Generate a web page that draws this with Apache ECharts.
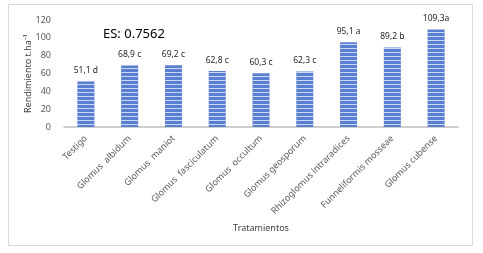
<!DOCTYPE html>
<html><head><meta charset="utf-8">
<script src="https://cdn.jsdelivr.net/npm/echarts@6/dist/echarts.min.js"></script>
<style>html,body{margin:0;padding:0;background:#fff}#c{width:483px;height:253px}</style>
</head><body><div id="c"></div>
<script>
var categories = ["Testigo","Glomus  albidum","Glomus  maniot","Glomus  fasciculatum","Glomus  occultum","Glomus geosporum","Rhizoglomus intraradices","Funneliformis mosseae","Glomus cubense"];
var values = [51.1, 68.9, 69.2, 62.8, 60.3, 62.3, 95.1, 89.2, 109.3];
var letters = ["d","c","c","c","c","c","a","b","a"];
var valueLabels = ["51,1 d","68,9 c","69,2 c","62,8 c","60,3 c","62,3 c","95,1 a","89,2 b","109,3a"];
var yTicks = [0,20,40,60,80,100,120];

var font = "Noto Sans";
var chart = echarts.init(document.getElementById('c'), null, {renderer:'canvas'});
chart.setOption({
  animation:false,
  textStyle:{fontFamily:font},
  graphic:[
    {type:'rect', shape:{x:8.5,y:4.5,width:464,height:241}, style:{fill:null, stroke:'#d9d9d9', lineWidth:1}, silent:true},
    {type:'text', left:103, top:28, style:{text:'ES: 0.7562', font:'13px "Noto Sans"', fill:'#000'}}
  ],
  grid:{left:64, right:25, top:20, bottom:126},
  xAxis:{type:'category', data:categories,
    axisLine:{lineStyle:{color:'#bfbfbf', width:1.5}},
    axisTick:{show:false},
    axisLabel:{rotate:45, fontSize:9, color:'#595959', margin:10, interval:0, fontFamily:font},
    name:'Tratamientos', nameLocation:'middle', nameGap:97, nameMoveOverlap:false,
    nameTextStyle:{fontSize:9, color:'#404040', fontFamily:font}
  },
  yAxis:{type:'value', min:0, max:120, interval:20,
    axisLine:{show:false}, axisTick:{show:false}, splitLine:{show:false},
    axisLabel:{fontSize:9, color:'#595959', margin:13, fontFamily:font},
    name:'Rendimiento t.ha\u207B\u00B9', nameLocation:'middle', nameGap:31, nameMoveOverlap:false,
    nameTextStyle:{fontSize:9, color:'#404040', fontFamily:font}
  },
  series:[{type:'bar', data:values, barWidth:17,
    itemStyle:{color:'#5a7ed2',
      decal:{symbol:'rect', symbolSize:1, dashArrayX:[[1,0]], dashArrayY:[1,2.5], color:'rgba(215,226,250,0.9)', rotation:0}},
    label:{show:true, position:'top', distance:6, fontSize:8.5, color:'#262626', fontFamily:font,
      formatter:function(p){return valueLabels[p.dataIndex];}}
  }]
});
</script></body></html>
